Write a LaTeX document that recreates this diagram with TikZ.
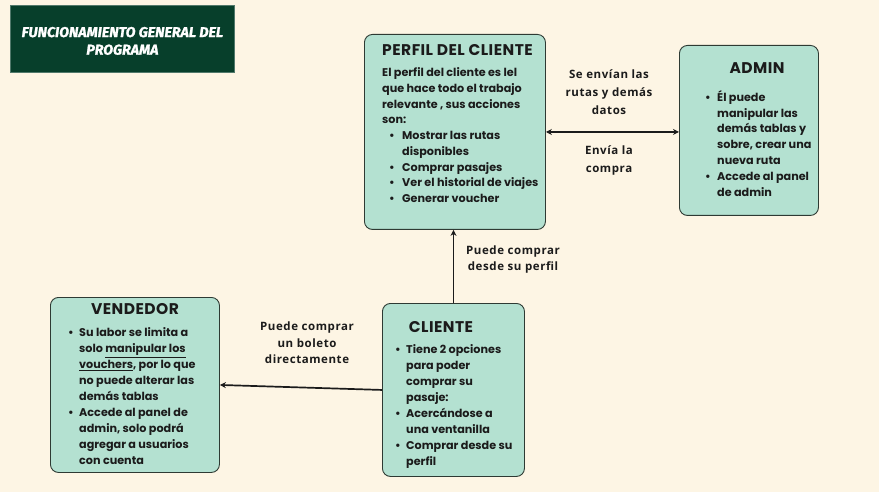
\documentclass[tikz,border=0pt]{standalone}
\usepackage{fontspec}
\setmainfont{Poppins}
\newfontfamily\labelfont{Open Sans}[LetterSpace=5]
\newfontfamily\headfont{Fira Sans}[BoldItalicFeatures={FakeBold=1.5}]
\newfontfamily\boxheadfont{Poppins}[LetterSpace=3]
\usetikzlibrary{arrows.meta}
\definecolor{bgc}{HTML}{FDF5E4}
\definecolor{mint}{HTML}{B4E1D1}
\definecolor{darkg}{HTML}{073F2B}
\definecolor{ink}{HTML}{1B1B1B}
\definecolor{edge}{HTML}{2E3A33}
\newcommand\itemdot[1]{\makebox[#1][l]{\textbullet}}
\tikzset{
  box/.style={draw=edge, line width=0.9pt, fill=mint, rounded corners=8pt, anchor=north west, inner sep=0pt},
  boxtitle/.style={text=ink, inner sep=0pt, font={\boxheadfont\fontsize{15.5}{17}\selectfont\bfseries}},
  bodytext/.style={text=ink, inner sep=0pt, anchor=north west, align=left},
  lbl/.style={text=ink, inner sep=0pt, anchor=north, align=center},
  conn/.style={draw=ink, line width=1.7pt},
  tip/.style={-{Stealth[length=6pt,width=6pt]}}
}
\begin{document}
\begin{tikzpicture}[x=1pt,y=-1pt]
\fill[bgc] (0,0) rectangle (879,492);
\useasboundingbox (0,0) rectangle (879,492);

% title
\node[fill=darkg, draw=darkg!70!white, line width=0.8pt, anchor=north west, minimum width=224pt, minimum height=67pt, inner sep=0pt] (title) at (10,5) {};
\node[text=white, align=center, inner sep=0pt, font={\headfont\fontsize{14.3}{17.6}\selectfont\bfseries\itshape}] (titletext) at ([yshift=-2pt]title.center) {FUNCIONAMIENTO GENERAL DEL\\PROGRAMA};

% boxes
\node[box, minimum width=181pt, minimum height=195pt] (perfil) at (364,34) {};
\node[box, minimum width=139pt, minimum height=170pt] (admin) at (679,45) {};
\node[box, minimum width=169pt, minimum height=175pt] (vendedor) at (50,297) {};
\node[box, minimum width=142pt, minimum height=173pt] (cliente) at (382,303) {};

% box titles
\node[boxtitle, anchor=west] (perfilT) at (382,50) {PERFIL DEL CLIENTE};
\node[boxtitle] (adminT) at (757,68) {ADMIN};
\node[boxtitle] (vendT) at (135,309) {VENDEDOR};
\node[boxtitle] (clienteT) at (441,327) {CLIENTE};

% box bodies
\node[bodytext, font={\fontsize{11.2}{15.75}\selectfont\bfseries}] (perfilB) at (382,65.3) {%
\strut El perfil del cliente es lel\\
que hace todo el trabajo\\
relevante , sus acciones\\
son:\\
\hspace*{7pt}\itemdot{13pt}Mostrar las rutas\\
\hspace*{20pt}disponibles\\
\hspace*{7pt}\itemdot{13pt}Comprar pasajes\\
\hspace*{7pt}\itemdot{13pt}Ver el historial de viajes\\
\hspace*{7pt}\itemdot{13pt}Generar voucher};

\node[bodytext, font={\fontsize{11.2}{15.8}\selectfont\bfseries}] (adminB) at (705,90.1) {%
\strut\itemdot{12pt}Él puede\\
\hspace*{12pt}manipular las\\
\hspace*{12pt}demás tablas y\\
\hspace*{12pt}sobre, crear una\\
\hspace*{12pt}nueva ruta\\
\itemdot{12pt}Accede al panel\\
\hspace*{12pt}de admin};

\node[bodytext, font={\fontsize{11.2}{16}\selectfont\bfseries}] (vendB) at (68,325.2) {%
\strut\itemdot{11pt}Su labor se limita a\\
\hspace*{11pt}solo \underline{manipular los}\\
\hspace*{11pt}\underline{vouchers}, por lo que\\
\hspace*{11pt}no puede alterar las\\
\hspace*{11pt}demás tablas\\
\itemdot{11pt}Accede al panel de\\
\hspace*{11pt}admin, solo podrá\\
\hspace*{11pt}agregar a usuarios\\
\hspace*{11pt}con cuenta};

\node[bodytext, font={\fontsize{11.2}{16}\selectfont\bfseries}] (clienteB) at (395,341.8) {%
\strut\itemdot{11pt}Tiene 2 opciones\\
\hspace*{11pt}para poder\\
\hspace*{11pt}comprar su\\
\hspace*{11pt}pasaje:\\
\itemdot{11pt}Acercándose a\\
\hspace*{11pt}una ventanilla\\
\itemdot{11pt}Comprar desde su\\
\hspace*{11pt}perfil};

% connectors
\draw[conn, {Stealth[length=6pt,width=6pt]}-{Stealth[length=6pt,width=6pt]}] (perfil.east) -- (perfil.east -| admin.west);
\draw[conn, tip] (cliente.north) -- (cliente.north |- perfil.south);
\draw[conn, tip] (cliente.west) -- (vendedor.east);

% connector labels
\node[lbl, font={\labelfont\fontsize{11.5}{18}\selectfont\bfseries}] (l1) at (609,65.4) {\strut Se envían las\\rutas y demás\\datos};
\node[lbl, font={\labelfont\fontsize{11.5}{18}\selectfont\bfseries}] (l2) at (609,142.1) {\strut Envía la\\compra};
\node[lbl, font={\labelfont\fontsize{11.5}{15.5}\selectfont\bfseries}] (l3) at (513,243.9) {\strut Puede comprar\\desde su perfil};
\node[lbl, font={\labelfont\fontsize{11.5}{16.5}\selectfont\bfseries}] (l4) at (307,318.8) {\strut Puede comprar\\un boleto\\directamente};
\end{tikzpicture}
\end{document}
